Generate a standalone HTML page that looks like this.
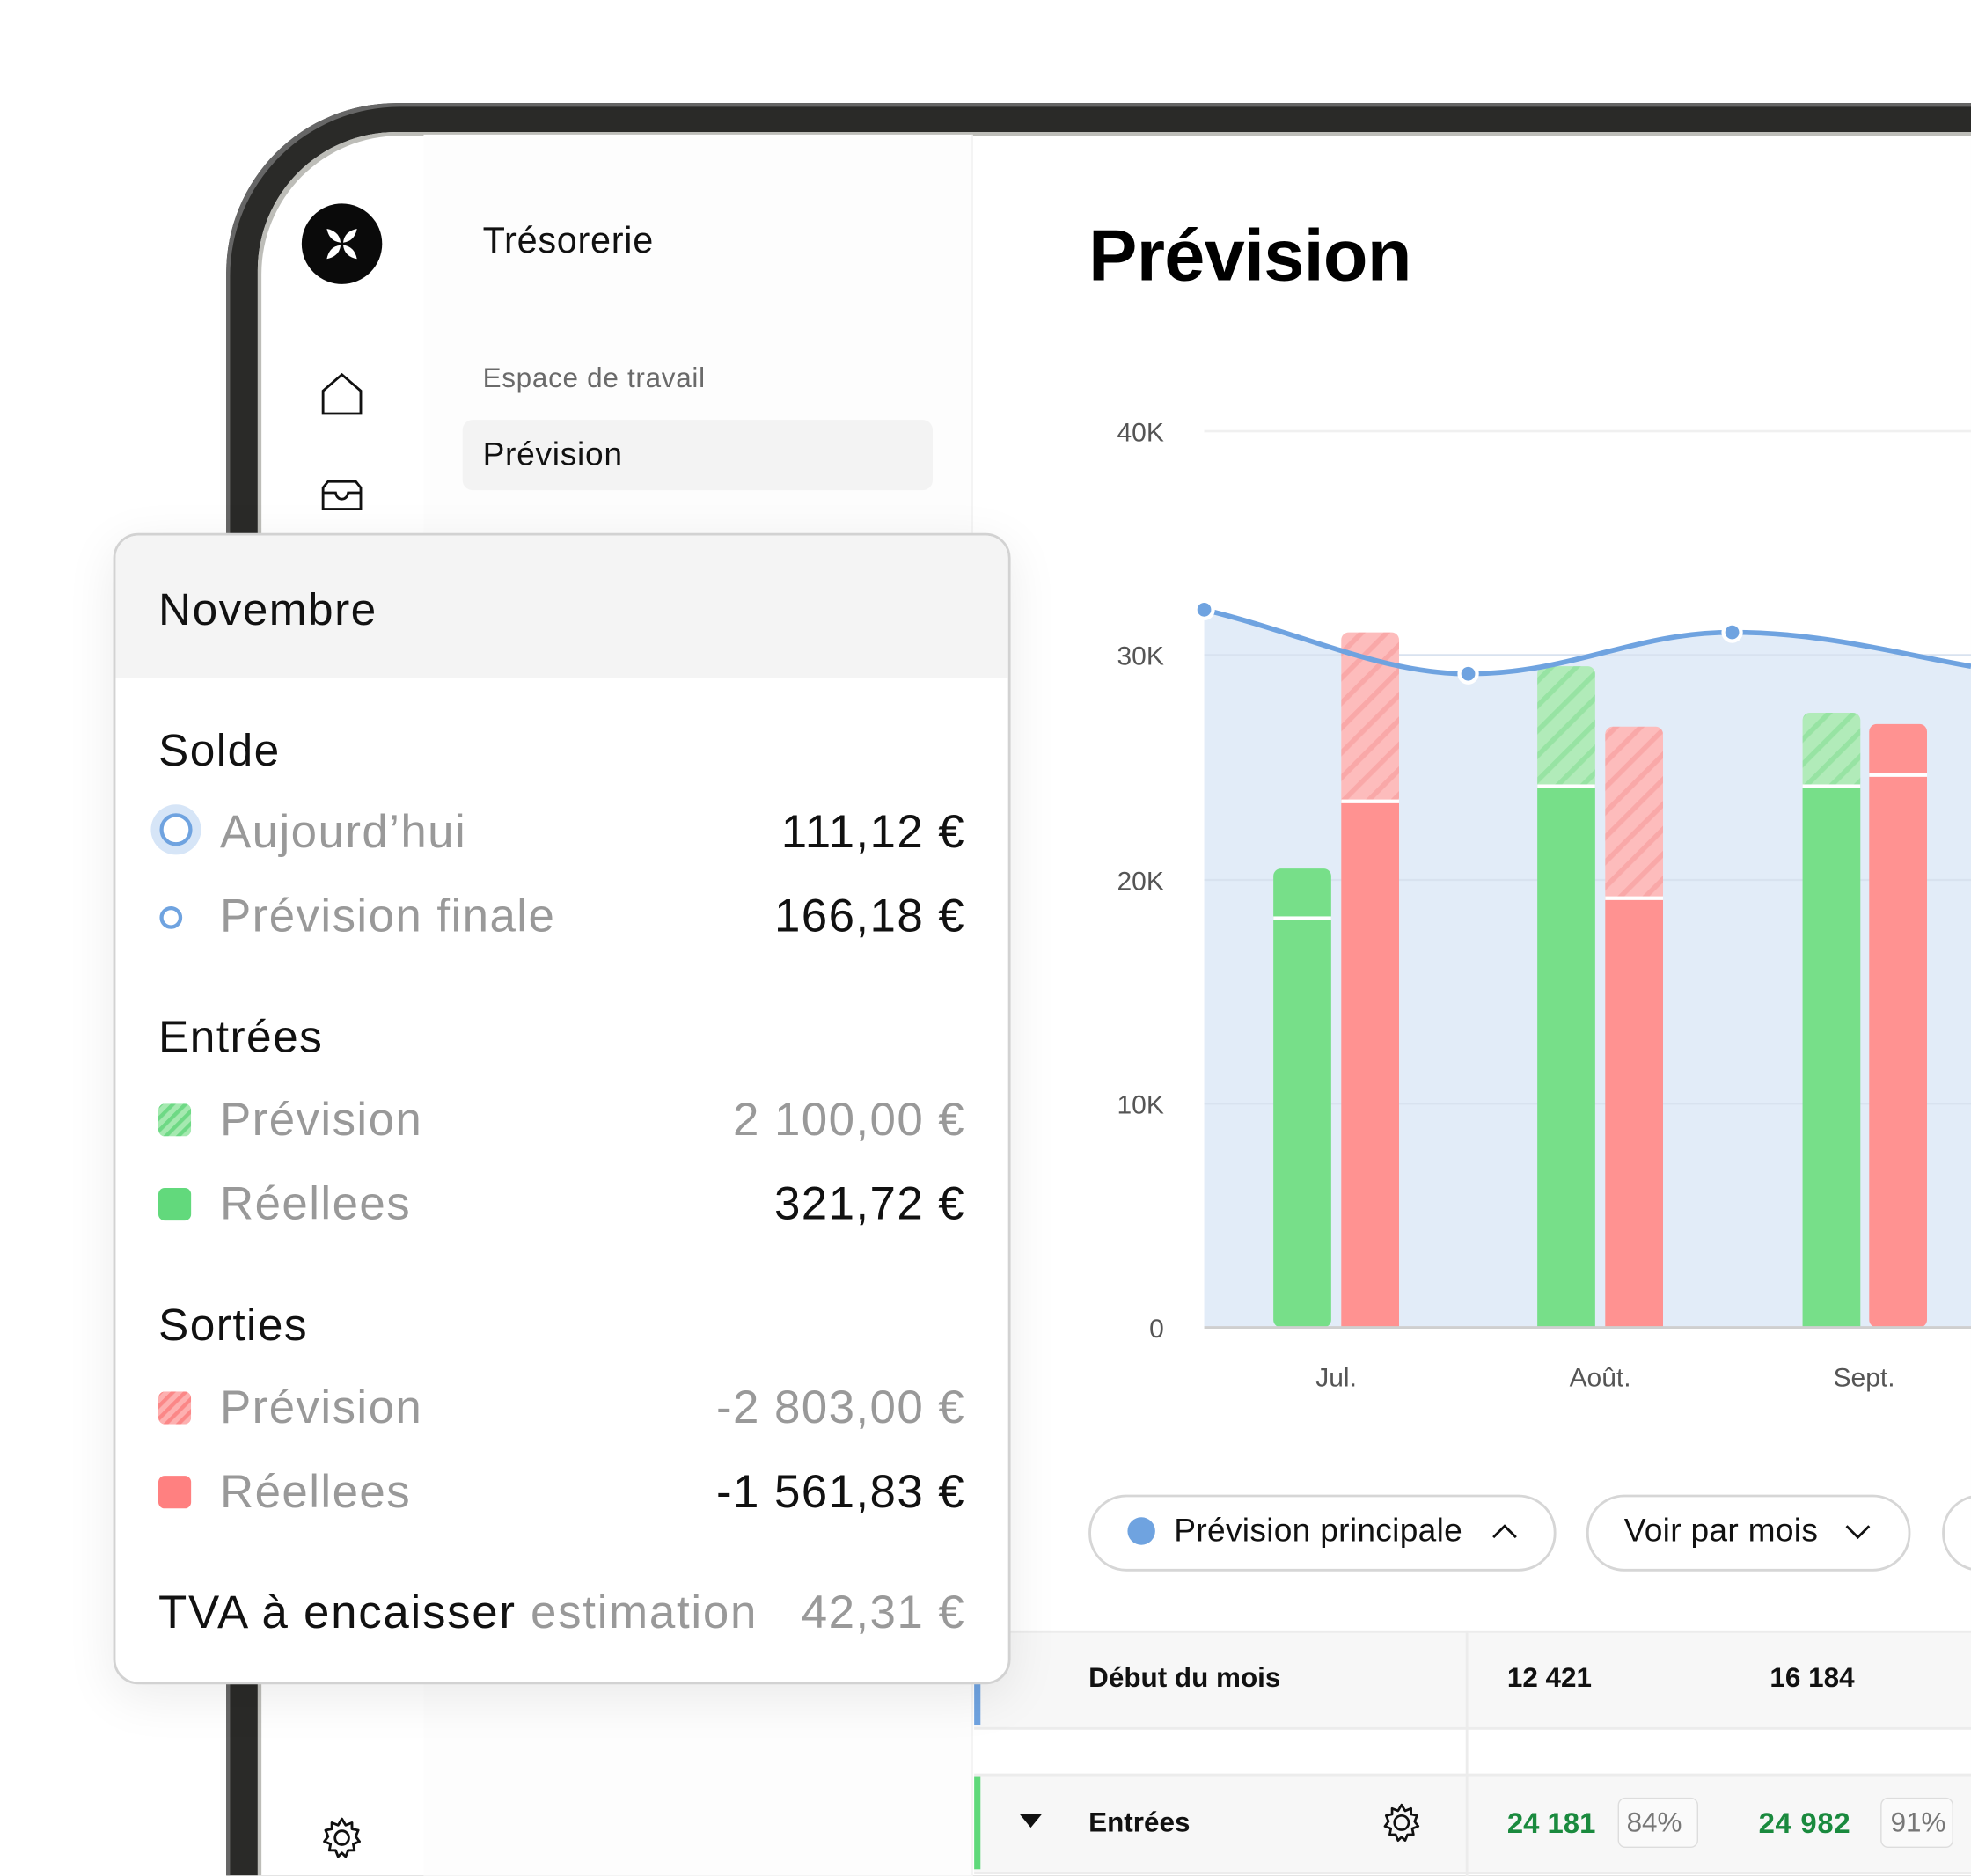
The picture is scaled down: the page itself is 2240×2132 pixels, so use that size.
<!DOCTYPE html>
<html><head><meta charset="utf-8"><style>
html,body{margin:0;padding:0;background:#fff;overflow:hidden}
body{width:2240px;height:2132px;position:relative}
#w{position:absolute;left:0;top:0;width:1568px;height:1492px;transform:scale(1.4285714);transform-origin:0 0;font-family:"Liberation Sans",sans-serif;overflow:hidden}
.a{position:absolute}
.bez{left:180px;top:82px;width:1388px;height:1410px;border-radius:135px 0 0 0;background:#2a2a28;box-shadow:inset 3px 3px 0 #666}
.scr{left:205px;top:105px;width:1363px;height:1387px;border-radius:110px 0 0 0;background:#fff;box-shadow:inset 3px 3px 0 #bdbdb8}
.side{left:337px;top:107px;width:437px;height:1385px;background:#fdfdfd;border-right:1px solid #f0f0f0;box-sizing:border-box}
.tt{left:90px;top:424px;width:710px;height:912px;border:2px solid #d2d2d2;border-radius:20px;background:#fff;overflow:hidden;box-shadow:0 10px 40px rgba(0,0,0,.08)}
.tt .h{position:absolute;left:0;top:0;right:0;height:113px;background:#f4f4f4}
.t{position:absolute;white-space:nowrap;letter-spacing:0.5px}
.big{font-size:37px;letter-spacing:1px}
.g{color:#999}
.r{text-align:right;right:34px}
.sw{position:absolute;width:26px;height:26px;border-radius:5px;left:34px}
</style></head><body><div id="w">
<div class="a bez"></div>
<div class="a scr"></div>
<div class="a side"></div>
<div class="a" style="left:240px;top:162px;width:64px;height:64px;border-radius:50%;background:#0a0a0a"></div>
<svg class="a" style="left:240px;top:162px" width="64" height="64" viewBox="0 0 64 64"><g fill="#fff"><path d="M20 20 Q30 22 31 31 Q22 30 20 20Z"/><path d="M44 20 Q42 30 33 31 Q34 22 44 20Z"/><path d="M20 44 Q22 34 31 33 Q30 42 20 44Z"/><path d="M44 44 Q34 42 33 33 Q42 34 44 44Z"/></g></svg>
<svg class="a" style="left:254px;top:296px" width="36" height="36" viewBox="0 0 36 36"><path d="M3 33 V15 L18 2 L33 15 V33 Z" fill="none" stroke="#111" stroke-width="2"/></svg>
<svg class="a" style="left:254px;top:380px" width="36" height="28" viewBox="0 0 36 28"><path d="M3 25 V8 L7 3 H29 L33 8 V25 Z M3 12 H13 Q14 17 18 17 Q22 17 23 12 H33" fill="none" stroke="#111" stroke-width="2"/></svg>
<svg class="a" style="left:254px;top:1444px" width="36" height="36" viewBox="0 0 36 36"><circle cx="18" cy="18" r="5.5" fill="none" stroke="#111" stroke-width="2"/><path d="M18 3 l3 5 5-2 0 5 5 1-2 5 3 4-5 2 1 5-5 0-2 5-3-3-3 3-2-5-5 0 1-5-5-2 3-4-2-5 5-1 0-5 5 2z" fill="none" stroke="#111" stroke-width="2" stroke-linejoin="round"/></svg>
<div class="t" style="left:384px;top:176px;font-size:29px;color:#111">Trésorerie</div>
<div class="t" style="left:384px;top:288px;font-size:22px;color:#6a6a6a">Espace de travail</div>
<div class="a" style="left:368px;top:334px;width:374px;height:56px;border-radius:8px;background:#f3f3f3"></div>
<div class="t" style="left:384px;top:346px;font-size:26px;color:#111">Prévision</div>
<div class="t" style="left:866px;top:170px;font-size:58px;font-weight:bold;color:#000;letter-spacing:-0.5px">Prévision</div>
<svg class="a" style="left:0;top:0" width="1568" height="1492" viewBox="0 0 1568 1492">
<defs>
<pattern id="hr" width="14" height="14" patternUnits="userSpaceOnUse" patternTransform="rotate(45)"><rect width="14" height="14" fill="#fdbcbc"/><rect width="4" height="14" fill="#f9a8a8"/></pattern>
<pattern id="hg" width="14" height="14" patternUnits="userSpaceOnUse" patternTransform="rotate(45)"><rect width="14" height="14" fill="#b1ebb9"/><rect width="4" height="14" fill="#97e3a3"/></pattern>
</defs>
<g font-family="Liberation Sans, sans-serif" font-size="21" fill="#555" text-anchor="end">
<text x="926" y="351">40K</text><text x="926" y="529">30K</text><text x="926" y="708">20K</text><text x="926" y="886">10K</text><text x="926" y="1064">0</text>
</g>
<line x1="958" y1="343" x2="1568" y2="343" stroke="#f0f0f0" stroke-width="2"/>
<path d="M958,485 C1040,505 1100,536 1168,536 C1250,536 1300,503 1378,503 C1450,503 1510,520 1568,530 L1568,1056 L958,1056Z" fill="#e2ecf8"/>
<g stroke="#d8e2ef" stroke-width="1.5"><line x1="958" y1="521" x2="1568" y2="521"/><line x1="958" y1="700" x2="1568" y2="700"/><line x1="958" y1="878" x2="1568" y2="878"/></g>
<g>
<rect x="1013" y="691" width="46" height="365" rx="6" fill="#77df89"/><rect x="1013" y="729" width="46" height="3" fill="#fff"/>
<rect x="1067" y="503" width="46" height="140" rx="6" fill="url(#hr)"/><rect x="1067" y="636" width="46" height="420" fill="#ff9291"/><rect x="1067" y="636" width="46" height="3" fill="#fff"/>
<rect x="1223" y="530" width="46" height="100" rx="6" fill="url(#hg)"/><rect x="1223" y="624" width="46" height="432" fill="#77df89"/><rect x="1223" y="624" width="46" height="3" fill="#fff"/>
<rect x="1277" y="578" width="46" height="140" rx="6" fill="url(#hr)"/><rect x="1277" y="713" width="46" height="343" fill="#ff9291"/><rect x="1277" y="713" width="46" height="3" fill="#fff"/>
<rect x="1434" y="567" width="46" height="62" rx="6" fill="url(#hg)"/><rect x="1434" y="624" width="46" height="432" fill="#77df89"/><rect x="1434" y="624" width="46" height="3" fill="#fff"/>
<rect x="1487" y="576" width="46" height="480" rx="6" fill="#ff9291"/><rect x="1487" y="615" width="46" height="3" fill="#fff"/>
</g>
<line x1="958" y1="1056" x2="1568" y2="1056" stroke="#cfcfcf" stroke-width="2"/>
<path d="M958,485 C1040,505 1100,536 1168,536 C1250,536 1300,503 1378,503 C1450,503 1510,520 1568,530" fill="none" stroke="#6fa3e0" stroke-width="4"/>
<g fill="#6fa3e0" stroke="#fff" stroke-width="3"><circle cx="958" cy="485" r="7"/><circle cx="1168" cy="536" r="7"/><circle cx="1378" cy="503" r="7"/></g>
<g font-family="Liberation Sans, sans-serif" font-size="21" fill="#555" text-anchor="middle"><text x="1063" y="1103">Jul.</text><text x="1273" y="1103">Août.</text><text x="1483" y="1103">Sept.</text></g>
</svg>
<div class="a" style="left:866px;top:1189px;width:368px;height:57px;border:2px solid #d6d6d6;border-radius:30px"></div>
<div class="a" style="left:897px;top:1207px;width:22px;height:22px;border-radius:50%;background:#6fa3e0"></div>
<div class="t" style="left:934px;top:1202px;font-size:26px;color:#111;letter-spacing:0.2px">Prévision principale</div>
<svg class="a" style="left:1186px;top:1210px" width="22" height="16"><path d="M2 13 L11 4 L20 13" fill="none" stroke="#111" stroke-width="2"/></svg>
<div class="a" style="left:1262px;top:1189px;width:254px;height:57px;border:2px solid #d6d6d6;border-radius:30px"></div>
<div class="t" style="left:1292px;top:1202px;font-size:26px;color:#111;letter-spacing:0.2px">Voir par mois</div>
<svg class="a" style="left:1467px;top:1210px" width="22" height="16"><path d="M2 4 L11 13 L20 4" fill="none" stroke="#111" stroke-width="2"/></svg>
<div class="a" style="left:1545px;top:1189px;width:100px;height:57px;border:2px solid #d6d6d6;border-radius:30px"></div>
<div class="a" style="left:775px;top:1297px;width:793px;height:75px;background:#f7f7f7;border-top:2px solid #ececec;border-bottom:2px solid #ececec"></div>
<div class="a" style="left:775px;top:1299px;width:5px;height:73px;background:#6fa3e0"></div>
<div class="a" style="left:775px;top:1411px;width:793px;height:76px;background:#f7f7f7;border-top:2px solid #ececec;border-bottom:2px solid #ececec"></div>
<div class="a" style="left:775px;top:1413px;width:5px;height:74px;background:#5fd97a"></div>
<div class="a" style="left:1166px;top:1297px;width:2px;height:195px;background:#ececec"></div>
<div class="t" style="left:866px;top:1322px;font-size:22px;font-weight:bold;color:#111;letter-spacing:0">Début du mois</div>
<div class="t" style="left:1199px;top:1322px;font-size:22px;font-weight:bold;color:#111;letter-spacing:0">12 421</div>
<div class="t" style="left:1408px;top:1322px;font-size:22px;font-weight:bold;color:#111;letter-spacing:0">16 184</div>
<svg class="a" style="left:811px;top:1443px" width="18" height="12"><path d="M0 0 H18 L9 11Z" fill="#111"/></svg>
<div class="t" style="left:866px;top:1437px;font-size:22px;font-weight:bold;color:#111;letter-spacing:0">Entrées</div>
<svg class="a" style="left:1098px;top:1432px" width="34" height="36" viewBox="0 0 36 36"><circle cx="18" cy="18" r="6" fill="none" stroke="#111" stroke-width="2"/><path d="M18 3 l3 5 5-2 0 5 5 1-2 5 3 4-5 2 1 5-5 0-2 5-3-3-3 3-2-5-5 0 1-5-5-2 3-4-2-5 5-1 0-5 5 2z" fill="none" stroke="#111" stroke-width="2" stroke-linejoin="round"/></svg>
<div class="t" style="left:1199px;top:1437px;font-size:23px;font-weight:bold;color:#1a8a3e;letter-spacing:0">24 181</div>
<div class="a" style="left:1287px;top:1430px;width:62px;height:38px;border:1.5px solid #ddd;border-radius:6px;background:#fafafa"></div>
<div class="t" style="left:1294px;top:1437px;font-size:22px;color:#777;letter-spacing:0">84%</div>
<div class="t" style="left:1399px;top:1437px;font-size:23px;font-weight:bold;color:#1a8a3e;letter-spacing:0.5px">24 982</div>
<div class="a" style="left:1496px;top:1430px;width:56px;height:38px;border:1.5px solid #ddd;border-radius:6px;background:#fafafa"></div>
<div class="t" style="left:1504px;top:1437px;font-size:22px;color:#777;letter-spacing:0">91%</div>
<div class="a tt">
<div class="h"></div>
<div class="t" style="left:34px;top:38px;font-size:36px;color:#111;letter-spacing:1px">Novembre</div>
<div class="t" style="left:34px;top:150px;font-size:36px;color:#111;letter-spacing:1px">Solde</div>
<div class="a" style="left:28px;top:214px;width:40px;height:40px;border-radius:50%;background:#d6e5f7"></div>
<div class="a" style="left:35px;top:221px;width:20px;height:20px;border-radius:50%;border:3px solid #6fa3e0;background:#fff"></div>
<div class="t big g" style="left:83px;top:215px">Aujourd’hui</div>
<div class="t big r" style="top:215px;color:#111">111,12 €</div>
<div class="a" style="left:35px;top:295px;width:12px;height:12px;border-radius:50%;border:3px solid #6fa3e0"></div>
<div class="t big g" style="left:83px;top:282px">Prévision finale</div>
<div class="t big r" style="top:282px;color:#111">166,18 €</div>
<div class="t" style="left:34px;top:378px;font-size:36px;color:#111;letter-spacing:1px">Entrées</div>
<svg class="sw" style="top:452px" width="26" height="26"><defs><pattern id="sg" width="7" height="7" patternUnits="userSpaceOnUse" patternTransform="rotate(45)"><rect width="7" height="7" fill="#a5e9b0"/><rect width="3" height="7" fill="#6ed985"/></pattern></defs><rect width="26" height="26" rx="5" fill="url(#sg)"/></svg>
<div class="t big g" style="left:83px;top:444px">Prévision</div>
<div class="t big r g" style="top:444px">2 100,00 €</div>
<div class="sw" style="top:519px;background:#62d97c"></div>
<div class="t big g" style="left:83px;top:511px">Réellees</div>
<div class="t big r" style="top:511px;color:#111">321,72 €</div>
<div class="t" style="left:34px;top:607px;font-size:36px;color:#111;letter-spacing:1px">Sorties</div>
<svg class="sw" style="top:681px" width="26" height="26"><defs><pattern id="sr" width="7" height="7" patternUnits="userSpaceOnUse" patternTransform="rotate(45)"><rect width="7" height="7" fill="#fdb0b0"/><rect width="3" height="7" fill="#fb8787"/></pattern></defs><rect width="26" height="26" rx="5" fill="url(#sr)"/></svg>
<div class="t big g" style="left:83px;top:673px">Prévision</div>
<div class="t big r g" style="top:673px">-2 803,00 €</div>
<div class="sw" style="top:748px;background:#ff8080"></div>
<div class="t big g" style="left:83px;top:740px">Réellees</div>
<div class="t big r" style="top:740px;color:#111">-1 561,83 €</div>
<div class="t big" style="left:34px;top:836px;color:#111;letter-spacing:1.2px">TVA à encaisser <span style="color:#999">estimation</span></div>
<div class="t big r g" style="top:836px">42,31 €</div>
</div>
</div></body></html>
